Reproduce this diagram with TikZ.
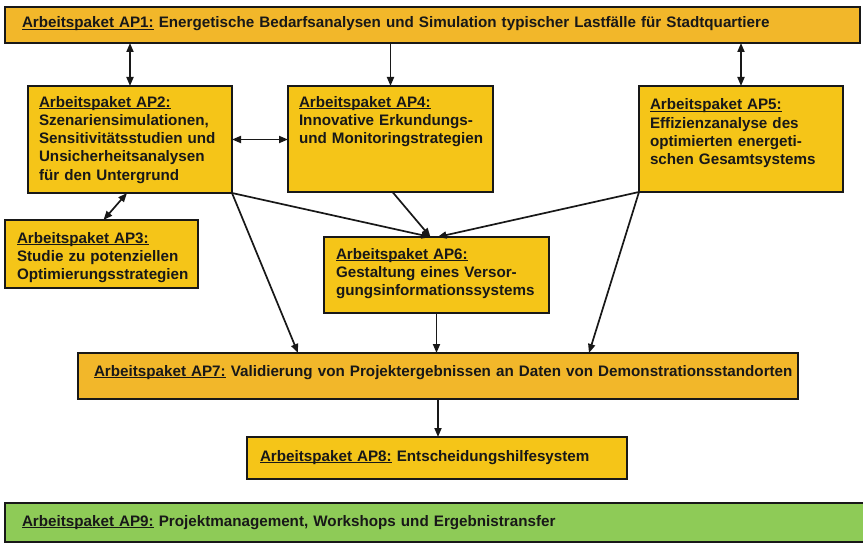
\documentclass[tikz,border=0pt]{standalone}
\usepackage{fontspec}
\setmainfont{Liberation Sans}
\usetikzlibrary{arrows.meta}
\definecolor{apyellow}{RGB}{245,197,24}
\definecolor{aporange}{RGB}{242,183,42}
\definecolor{apgreen}{RGB}{142,203,87}
\definecolor{apline}{RGB}{24,24,24}
\hyphenpenalty=10000
\newcommand{\apul}[1]{\setbox0\hbox{#1}\rlap{\rule[-2.4pt]{\wd0}{1.2pt}}\box0\relax}

\begin{document}
\begin{tikzpicture}[x=1pt,y=-1pt,ap/.style={draw=apline,line width=2.2pt,fill=apyellow,anchor=north west,outer sep=0pt,inner ysep=0pt,inner xsep=11pt,align=left,text=apline,font=\bfseries\fontsize{15.2}{18.3}\selectfont},arr/.style={-{Triangle[length=9pt,width=7pt]},line width=1.7pt,draw=apline},darr/.style={{Triangle[length=9pt,width=7pt]}-{Triangle[length=9pt,width=7pt]},line width=1.7pt,draw=apline}]
\useasboundingbox[fill=white] (0,0) rectangle (863,543);
\node[ap,fill=aporange,inner xsep=17pt,text width=821pt,text height=21pt,text depth=15pt] (ap1) at (5,7) {\mbox{\apul{Arbeitspaket AP1:} Energetische Bedarfsanalysen und Simulation typischer Lastfälle für Stadtquartiere}};
\node[ap,text width=182pt,text height=21pt,text depth=86pt] (ap2) at (28,86) {\apul{Arbeitspaket AP2:}\\Szenariensimulationen,\\Sensitivitätsstudien~und\\Unsicherheitsanalysen\\für~den~Untergrund};
\node[ap,text width=183pt,text height=21pt,text depth=85pt] (ap4) at (288,86) {\apul{Arbeitspaket AP4:}\\Innovative~Erkundungs-\\und~Monitoringstrategien};
\node[ap,text width=182pt,text height=24pt,text depth=82pt] (ap5) at (639,86) {\apul{Arbeitspaket AP5:}\\Effizienzanalyse~des\\optimierten~energeti-\\schen~Gesamtsystems};
\node[ap,inner xsep=12pt,text width=169pt,text height=23pt,text depth=45pt] (ap3) at (5,220) {\apul{Arbeitspaket AP3:}\\Studie~zu~potenziellen\\Optimierungsstrategien};
\node[ap,inner xsep=12pt,text width=201pt,text height=22pt,text depth=54pt] (ap6) at (324,237) {\apul{Arbeitspaket AP6:}\\Gestaltung~eines~Versor-\\gungsinformationssystems};
\node[ap,fill=aporange,inner xsep=16pt,text width=688pt,text height=23pt,text depth=23pt] (ap7) at (78,353) {\mbox{\apul{Arbeitspaket AP7:} Validierung von Projektergebnissen an Daten von Demonstrationsstandorten}};
\node[ap,inner xsep=13pt,text width=354pt,text height=24pt,text depth=18pt] (ap8) at (247,437) {\mbox{\apul{Arbeitspaket AP8:} Entscheidungshilfesystem}};
\node[ap,fill=apgreen,inner xsep=17pt,text width=831pt,text height=23pt,text depth=16pt] (ap9) at (5,503) {\mbox{\apul{Arbeitspaket AP9:} Projektmanagement, Workshops und Ergebnistransfer}};
\draw[darr] (ap1.south -| ap2.north) -- (ap2.north);
\draw[arr] (ap1.south -| ap4.north) -- (ap4.north);
\draw[darr] (ap1.south -| ap5.north) -- (ap5.north);
\draw[darr] (ap2.east) -- (ap2.east -| ap4.west);
\draw[darr] ([xshift=-3pt]ap2.south) -- ([xshift=2pt]ap3.north);
\draw[arr] (ap2.south east) -- ([xshift=-6pt]ap6.north);
\draw[arr] ([xshift=2pt]ap4.south) -- ([xshift=-6pt]ap6.north);
\draw[arr] (ap5.south west) -- ([xshift=1pt]ap6.north);
\draw[arr] (ap2.south east) -- ([xshift=220pt]ap7.north west);
\draw[arr] (ap6.south) -- (ap6.south |- ap7.north);
\draw[arr] (ap5.south west) -- ([xshift=511pt]ap7.north west);
\draw[arr] (ap7.south) -- (ap7.south |- ap8.north);
\end{tikzpicture}
\end{document}
